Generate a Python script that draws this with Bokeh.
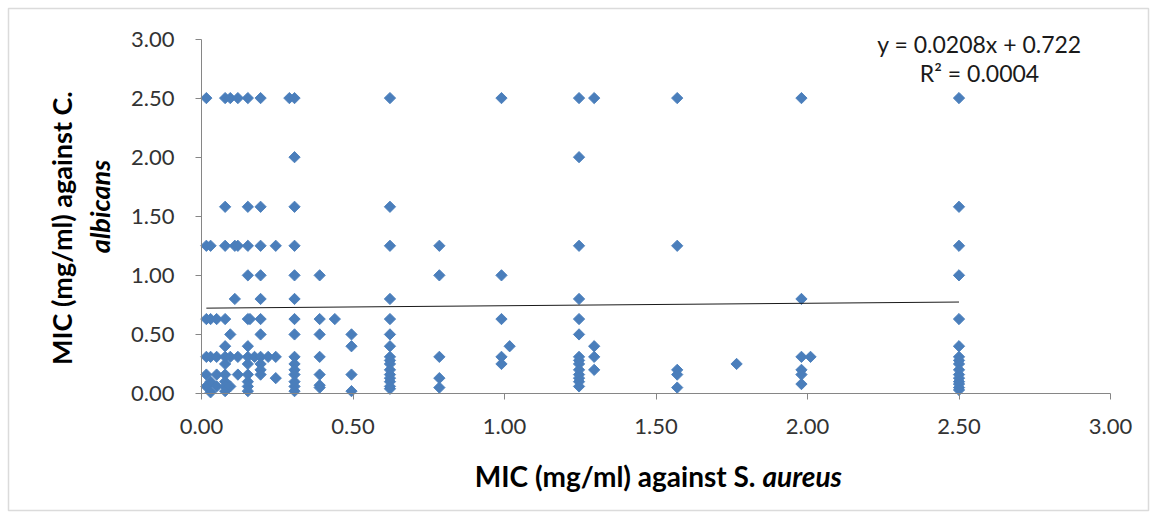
import numpy as np
from bokeh.plotting import figure
from bokeh.models import Range1d, Label, PolyAnnotation, FixedTicker, NumeralTickFormatter, ColumnDataSource
from bokeh.embed import file_html
from bokeh.resources import INLINE

# ---- data: MIC against S. aureus (x) and against C. albicans (y), grouped by x column ----
sa_columns = [0.016, 0.03, 0.05, 0.078, 0.095, 0.11, 0.12, 0.153, 0.16, 0.175, 0.195, 0.22, 0.245,
              0.29, 0.307, 0.39, 0.44, 0.495, 0.622, 0.785, 0.99, 1.017, 1.246, 1.296, 1.57, 1.766,
              1.98, 2.01, 2.5]
ca_values = [
    [2.5, 1.25, 0.63, 0.31, 0.16, 0.06],
    [1.25, 0.63, 0.31, 0.10, 0.01],
    [0.63, 0.31, 0.16, 0.06],
    [2.5, 1.58, 1.25, 0.63, 0.4, 0.31, 0.25, 0.16, 0.1, 0.06, 0.02],
    [2.5, 0.5, 0.31, 0.06],
    [1.25, 0.8],
    [2.5, 1.25, 0.31, 0.16],
    [2.5, 1.58, 1.25, 1.0, 0.63, 0.4, 0.31, 0.25, 0.16, 0.1, 0.06, 0.02],
    [0.63],
    [0.31],
    [2.5, 1.58, 1.25, 1.0, 0.8, 0.63, 0.5, 0.31, 0.25, 0.2, 0.16],
    [0.31],
    [1.25, 0.31, 0.13],
    [2.5],
    [2.5, 2.0, 1.58, 1.25, 1.0, 0.8, 0.63, 0.5, 0.31, 0.25, 0.2, 0.16, 0.1, 0.06, 0.02],
    [1.0, 0.63, 0.5, 0.31, 0.16, 0.07, 0.05],
    [0.63],
    [0.5, 0.4, 0.16, 0.02],
    [2.5, 1.58, 1.25, 0.8, 0.63, 0.5, 0.4, 0.31, 0.28, 0.25, 0.2, 0.16, 0.13, 0.1, 0.06, 0.04],
    [1.25, 1.0, 0.31, 0.13, 0.05],
    [2.5, 1.0, 0.63, 0.31, 0.25],
    [0.4],
    [2.5, 2.0, 1.25, 0.8, 0.63, 0.5, 0.31, 0.28, 0.25, 0.2, 0.16, 0.13, 0.1, 0.06],
    [2.5, 0.4, 0.31, 0.2],
    [2.5, 1.25, 0.2, 0.16, 0.05],
    [0.25],
    [2.5, 0.8, 0.31, 0.2, 0.16, 0.08],
    [0.31],
    [2.5, 1.58, 1.25, 1.0, 0.63, 0.4, 0.31, 0.28, 0.25, 0.2, 0.16, 0.13, 0.1, 0.08, 0.05, 0.03],
]
trend_slope = 0.0208
trend_intercept = 0.722
equation_text = "y = 0.0208x + 0.722"
r2_text = "R² = 0.0004"
axis_ticks = [0.0, 0.5, 1.0, 1.5, 2.0, 2.5, 3.0]
axis_min, axis_max = 0.0, 3.0

xs, ys = [], []
for xv, col in zip(sa_columns, ca_values):
    for yv in col:
        xs.append(xv)
        ys.append(yv)

# ---- layout (pixel geometry of the plot area) ----
W, H = 1157, 518
PX_X0, PX_X3 = 201.0, 1110.0   # pixel of x=0 and x=3
PX_Y0, PX_Y3 = 393.0, 38.5     # pixel of y=0 and y=3
FONT = "Lato"


def dx(px):
    return (px - PX_X0) / (PX_X3 - PX_X0) * 3.0


def dy(py):
    return (PX_Y0 - py) / (PX_Y0 - PX_Y3) * 3.0


p = figure(width=W, height=H, output_backend="svg", toolbar_location=None,
           x_range=Range1d(dx(0), dx(W)), y_range=Range1d(dy(H), dy(0)),
           min_border=0, min_border_left=0, min_border_right=0, min_border_top=0, min_border_bottom=0)
p.outline_line_color = None
p.xgrid.visible = False
p.ygrid.visible = False
p.background_fill_color = "white"
p.border_fill_color = "white"

for ax in (p.xaxis[0], p.yaxis[0]):
    ax.fixed_location = 0
    ax.bounds = (axis_min, axis_max)
    ax.ticker = FixedTicker(ticks=axis_ticks)
    ax.formatter = NumeralTickFormatter(format="0.00")
    ax.axis_line_color = "#868686"
    ax.axis_line_width = 1
    ax.major_tick_line_color = "#868686"
    ax.major_tick_out = 6
    ax.major_tick_in = 0
    ax.minor_tick_line_color = None
    ax.major_label_text_font = FONT
    ax.major_label_text_font_size = "22px"
    ax.major_label_text_color = "#333333"
p.yaxis.major_label_standoff = 21
p.xaxis.major_label_standoff = 19

src = ColumnDataSource(dict(x=xs, y=ys))
p.scatter("x", "y", source=src, marker="square", size=8, angle=np.pi / 4,
          fill_color="#4A7EBB", line_color="#4A7EBB", line_width=0.9)

# trendline
tx = np.array([min(xs), max(xs)])
p.line(tx, trend_slope * tx + trend_intercept, line_color="#1a1a1a", line_width=1)

# equation labels
p.add_layout(Label(x=dx(979), y=dy(43), text=equation_text, text_align="center",
                   text_baseline="middle", text_font=FONT, text_font_size="23px", text_color="#1a1a1a"))
p.add_layout(Label(x=dx(979), y=dy(72), text=r2_text, text_align="center",
                   text_baseline="middle", text_font=FONT, text_font_size="23px", text_color="#1a1a1a"))

# x-axis title (mixed style)
p.add_layout(Label(x=dx(755), y=dy(475), text="MIC (mg/ml) against S.", text_align="right",
                   text_baseline="middle", text_font=FONT, text_font_size="28px",
                   text_font_style="bold", text_color="#000000"))
p.add_layout(Label(x=dx(762), y=dy(475), text="aureus", text_align="left",
                   text_baseline="middle", text_font=FONT, text_font_size="28px",
                   text_font_style="bold italic", text_color="#000000"))

# y-axis title (two lines, rotated)
p.add_layout(Label(x=dx(61), y=dy(221), text="MIC  (mg/ml) against  C.", angle=np.pi / 2,
                   text_align="center", text_baseline="middle", text_font=FONT,
                   text_font_size="27px", text_font_style="bold", text_color="#000000"))
p.add_layout(Label(x=dx(99), y=dy(206), text="albicans", angle=np.pi / 2,
                   text_align="center", text_baseline="middle", text_font=FONT,
                   text_font_size="27px", text_font_style="bold italic", text_color="#000000"))

# chart border
p.add_layout(PolyAnnotation(xs=[dx(8), dx(1148), dx(1148), dx(8)],
                            ys=[dy(8), dy(8), dy(510), dy(510)],
                            fill_color=None, fill_alpha=0, line_color="#878787", line_width=1.5))

open("out.html", "w").write(file_html(p, INLINE))
